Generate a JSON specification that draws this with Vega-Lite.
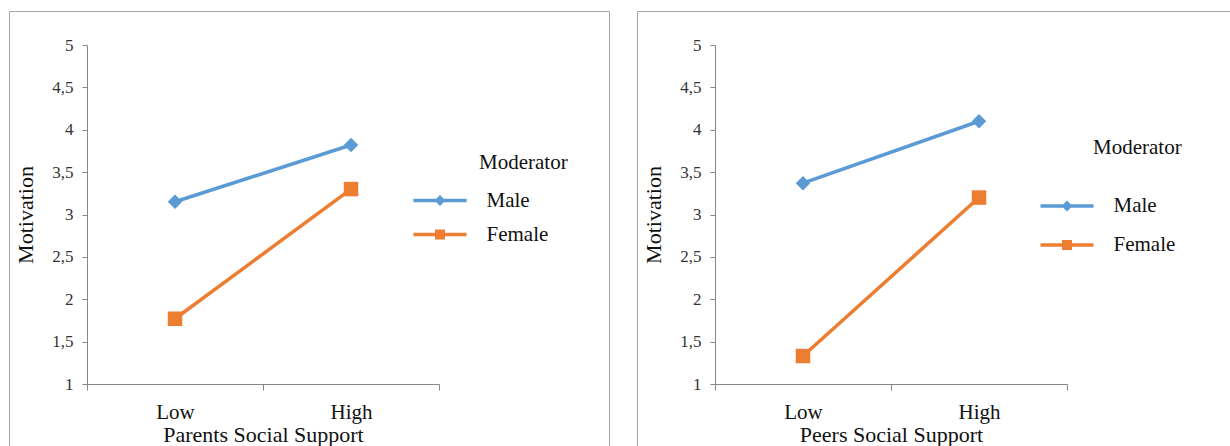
{
  "$schema": "https://vega.github.io/schema/vega-lite/v6.json",
  "padding": {"left": 8, "top": 10, "right": 0, "bottom": 0},
  "background": "white",
  "spacing": 26,
  "datasets": {
    "parents": [
      {"support": "Low", "Moderator": "Male", "motivation": 3.15},
      {"support": "High", "Moderator": "Male", "motivation": 3.82},
      {"support": "Low", "Moderator": "Female", "motivation": 1.77},
      {"support": "High", "Moderator": "Female", "motivation": 3.30}
    ],
    "peers": [
      {"support": "Low", "Moderator": "Male", "motivation": 3.37},
      {"support": "High", "Moderator": "Male", "motivation": 4.10},
      {"support": "Low", "Moderator": "Female", "motivation": 1.33},
      {"support": "High", "Moderator": "Female", "motivation": 3.20}
    ]
  },
  "resolve": {
    "scale": {"x": "independent", "y": "independent", "color": "independent", "fill": "independent", "shape": "independent"},
    "legend": {"color": "independent"},
    "axis": {"x": "independent", "y": "independent"}
  },
  "hconcat": [
    {
      "width": 600,
      "height": 450,
      "data": {"name": "parents"},
      "encoding": {
        "x": {
          "field": "support", "type": "nominal", "sort": ["Low", "High"],
          "scale": {"type": "band", "range": [78, 430], "paddingInner": 0, "paddingOuter": 0},
          "axis": {"title": "Parents Social Support", "offset": -77, "labelAngle": 0, "tickBand": "extent", "tickSize": 6, "labelPadding": 11, "titlePadding": 2}
        },
        "y": {
          "field": "motivation", "type": "quantitative",
          "scale": {"domain": [1, 5], "range": [373, 34], "nice": false, "zero": false},
          "axis": {"title": "Motivation", "offset": -78, "values": [1, 1.5, 2, 2.5, 3, 3.5, 4, 4.5, 5], "labelExpr": "replace(format(datum.value, ''), '.', ',')", "tickSize": 5, "labelPadding": 9, "titlePadding": 14, "grid": false}
        }
      },
      "layer": [
        {
          "mark": {"type": "line", "strokeWidth": 3.5},
          "encoding": {
            "color": {
              "field": "Moderator", "type": "nominal",
              "scale": {"domain": ["Male", "Female"], "range": ["#5B9BD5", "#ED7D31"]},
              "legend": {
                "orient": "none", "legendX": 470, "legendY": 141, "padding": 0,
                "title": "Moderator", "titlePadding": 17, "rowPadding": 12,
                "symbolSize": 4, "symbolStrokeWidth": 0, "symbolOffset": -49.5,
                "labelOffset": 36,
                "encode": {
                  "symbols": {
                    "update": {
                      "shape": {"signal": "datum.value === 'Male' ? 'M-26.5,-1.75H26.5V1.75H-26.5Z M0,-5.5L5.5,0L0,5.5L-5.5,0Z' : 'M-26.5,-1.75H26.5V1.75H-26.5Z M-5,-5H5V5H-5Z'"},
                      "fill": {"signal": "datum.value === 'Male' ? '#5B9BD5' : '#ED7D31'"},
                      "stroke": {"value": "transparent"},
                      "strokeWidth": {"value": 0},
                      "opacity": {"value": 1}
                    }
                  }
                }
              }
            }
          }
        },
        {
          "mark": {"type": "point", "filled": true, "opacity": 1, "size": 210},
          "encoding": {
            "fill": {
              "field": "Moderator", "type": "nominal", "sort": ["Male", "Female"],
              "scale": {"range": ["#5B9BD5", "#ED7D31"]},
              "legend": null
            },
            "shape": {
              "field": "Moderator", "type": "nominal", "sort": ["Male", "Female"],
              "scale": {"range": ["diamond", "square"]},
              "legend": null
            }
          }
        }
      ]
    },
    {
      "width": 600,
      "height": 450,
      "data": {"name": "peers"},
      "encoding": {
        "x": {
          "field": "support", "type": "nominal", "sort": ["Low", "High"],
          "scale": {"type": "band", "range": [78, 430], "paddingInner": 0, "paddingOuter": 0},
          "axis": {"title": "Peers Social Support", "offset": -77, "labelAngle": 0, "tickBand": "extent", "tickSize": 6, "labelPadding": 11, "titlePadding": 2}
        },
        "y": {
          "field": "motivation", "type": "quantitative",
          "scale": {"domain": [1, 5], "range": [373, 34], "nice": false, "zero": false},
          "axis": {"title": "Motivation", "offset": -78, "values": [1, 1.5, 2, 2.5, 3, 3.5, 4, 4.5, 5], "labelExpr": "replace(format(datum.value, ''), '.', ',')", "tickSize": 5, "labelPadding": 9, "titlePadding": 14, "grid": false}
        }
      },
      "layer": [
        {
          "mark": {"type": "line", "strokeWidth": 3.5},
          "encoding": {
            "color": {
              "field": "Moderator", "type": "nominal",
              "scale": {"domain": ["Male", "Female"], "range": ["#5B9BD5", "#ED7D31"]},
              "legend": {
                "orient": "none", "legendX": 456, "legendY": 126, "padding": 0,
                "title": "Moderator", "titlePadding": 37.5, "rowPadding": 17,
                "symbolSize": 4, "symbolStrokeWidth": 0, "symbolOffset": -36.5,
                "labelOffset": 36,
                "encode": {
                  "symbols": {
                    "update": {
                      "shape": {"signal": "datum.value === 'Male' ? 'M-26.5,-1.75H26.5V1.75H-26.5Z M0,-5.5L5.5,0L0,5.5L-5.5,0Z' : 'M-26.5,-1.75H26.5V1.75H-26.5Z M-5,-5H5V5H-5Z'"},
                      "fill": {"signal": "datum.value === 'Male' ? '#5B9BD5' : '#ED7D31'"},
                      "stroke": {"value": "transparent"},
                      "strokeWidth": {"value": 0},
                      "opacity": {"value": 1}
                    }
                  }
                }
              }
            }
          }
        },
        {
          "mark": {"type": "point", "filled": true, "opacity": 1, "size": 210},
          "encoding": {
            "fill": {
              "field": "Moderator", "type": "nominal", "sort": ["Male", "Female"],
              "scale": {"range": ["#5B9BD5", "#ED7D31"]},
              "legend": null
            },
            "shape": {
              "field": "Moderator", "type": "nominal", "sort": ["Male", "Female"],
              "scale": {"range": ["diamond", "square"]},
              "legend": null
            }
          }
        }
      ]
    }
  ],
  "config": {
    "font": "Liberation Serif",
    "view": {"stroke": "#A6A6A6", "strokeWidth": 1},
    "text": {"font": "Liberation Serif"},
    "axis": {
      "domainColor": "#868686", "tickColor": "#868686", "domainWidth": 1, "tickWidth": 1,
      "labelFont": "Liberation Serif", "labelFontSize": 17, "labelColor": "#333333",
      "titleFont": "Liberation Serif", "titleFontSize": 22, "titleFontWeight": "normal", "titleColor": "#111111"
    },
    "axisX": {"labelFontSize": 21, "labelColor": "#111111"},
    "legend": {
      "labelFont": "Liberation Serif", "labelFontSize": 21, "labelColor": "#111111",
      "titleFont": "Liberation Serif", "titleFontSize": 21, "titleFontWeight": "normal", "titleColor": "#111111"
    }
  }
}
